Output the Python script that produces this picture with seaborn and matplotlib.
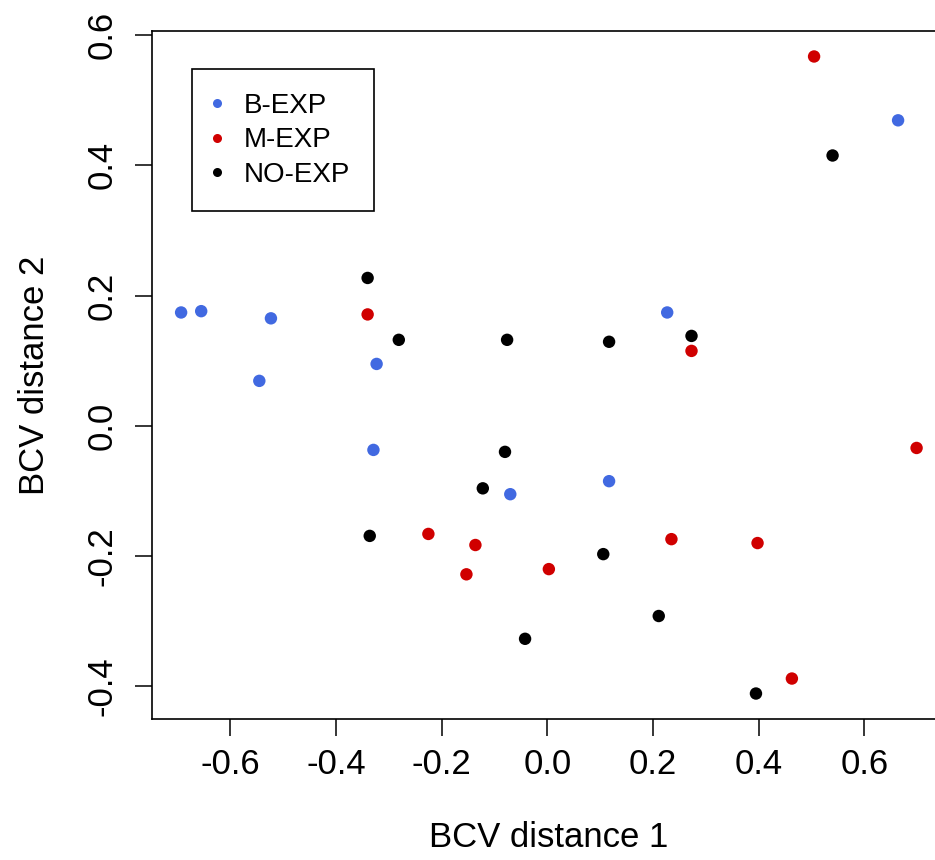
import numpy as np
import pandas as pd
import matplotlib
matplotlib.use("Agg")
import matplotlib.pyplot as plt
import seaborn as sns
from matplotlib.lines import Line2D

# ---- data ----
groups = ["B-EXP", "M-EXP", "NO-EXP"]
b_x = [-0.693, -0.655, -0.523, -0.545, -0.323, -0.329, -0.070, 0.117, 0.227, 0.664]
b_y = [0.174, 0.176, 0.165, 0.069, 0.095, -0.037, -0.105, -0.085, 0.174, 0.469]
m_x = [0.505, -0.340, 0.273, 0.699, -0.225, -0.136, -0.153, 0.003, 0.235, 0.398, 0.463]
m_y = [0.567, 0.171, 0.115, -0.034, -0.166, -0.183, -0.228, -0.220, -0.174, -0.180, -0.388]
n_x = [0.540, -0.340, -0.281, -0.076, 0.117, 0.273, -0.080, -0.122, -0.336, 0.106, 0.211, -0.042, 0.395]
n_y = [0.415, 0.227, 0.132, 0.132, 0.129, 0.138, -0.040, -0.096, -0.169, -0.197, -0.292, -0.327, -0.411]
x_ticks = [-0.6, -0.4, -0.2, 0.0, 0.2, 0.4, 0.6]
y_ticks = [-0.4, -0.2, 0.0, 0.2, 0.4, 0.6]
colors = {"B-EXP": "#4169E1", "M-EXP": "#D00000", "NO-EXP": "#000000"}

df = pd.DataFrame({
    "x": b_x + m_x + n_x,
    "y": b_y + m_y + n_y,
    "group": ["B-EXP"] * len(b_x) + ["M-EXP"] * len(m_x) + ["NO-EXP"] * len(n_x),
})

sns.set_style("white")
plt.rcParams["font.family"] = ["Liberation Sans", "DejaVu Sans"]
plt.rcParams["text.color"] = "black"
plt.rcParams["axes.labelcolor"] = "black"
plt.rcParams["xtick.color"] = "black"
plt.rcParams["ytick.color"] = "black"

fig = plt.figure(figsize=(9.35, 8.6), dpi=100)
W, H = 935, 860
left_px, right_px, top_px, bot_px = 151.7, 946, 31, 719
ax = fig.add_axes([left_px / W, 1 - bot_px / H, (right_px - left_px) / W, (bot_px - top_px) / H])

sns.scatterplot(data=df, x="x", y="y", hue="group", hue_order=groups,
                palette=colors, s=80, linewidth=0, ax=ax, legend=False, zorder=3)

# R-style 4% axis expansion
xr = max(df.x) - min(df.x)
yr = max(df.y) - min(df.y)
ax.set_xlim(min(df.x) - 0.04 * xr, max(df.x) + 0.04 * xr)
ax.set_ylim(min(df.y) - 0.04 * yr, max(df.y) + 0.04 * yr)

ax.set_xticks(x_ticks)
ax.set_xticklabels([f"{v:.1f}" for v in x_ticks])
ax.set_yticks(y_ticks)
ax.set_yticklabels([f"{v:.1f}" for v in y_ticks], rotation=90, va="center")

for s in ax.spines.values():
    s.set_color("black")
    s.set_linewidth(1.2)
    s.set_visible(True)

ax.tick_params(axis="both", direction="out", length=12, width=1.1, colors="black",
               labelsize=25, pad=9, bottom=True, left=True)
ax.tick_params(axis="y", pad=12)
ax.set_xlabel("BCV distance 1", fontsize=25, labelpad=29, color="black")
ax.set_ylabel("BCV distance 2", fontsize=25, labelpad=25, color="black")

handles = [Line2D([], [], marker="o", linestyle="none", markersize=6.5,
                  markerfacecolor=colors[g], markeredgewidth=0) for g in groups]
leg = ax.legend(handles, groups, loc="upper left",
                bbox_to_anchor=((191.7 - left_px) / (right_px - left_px), (bot_px - 69.3) / (bot_px - top_px)),
                borderaxespad=0, fontsize=20, frameon=True, fancybox=False,
                labelspacing=0.3, handletextpad=0.93, handlelength=0.1,
                borderpad=0.85, edgecolor="black", framealpha=1)
leg.get_frame().set_linewidth(1.2)
for t in leg.get_texts():
    t.set_color("black")

fig.savefig("out.png", dpi=100)
